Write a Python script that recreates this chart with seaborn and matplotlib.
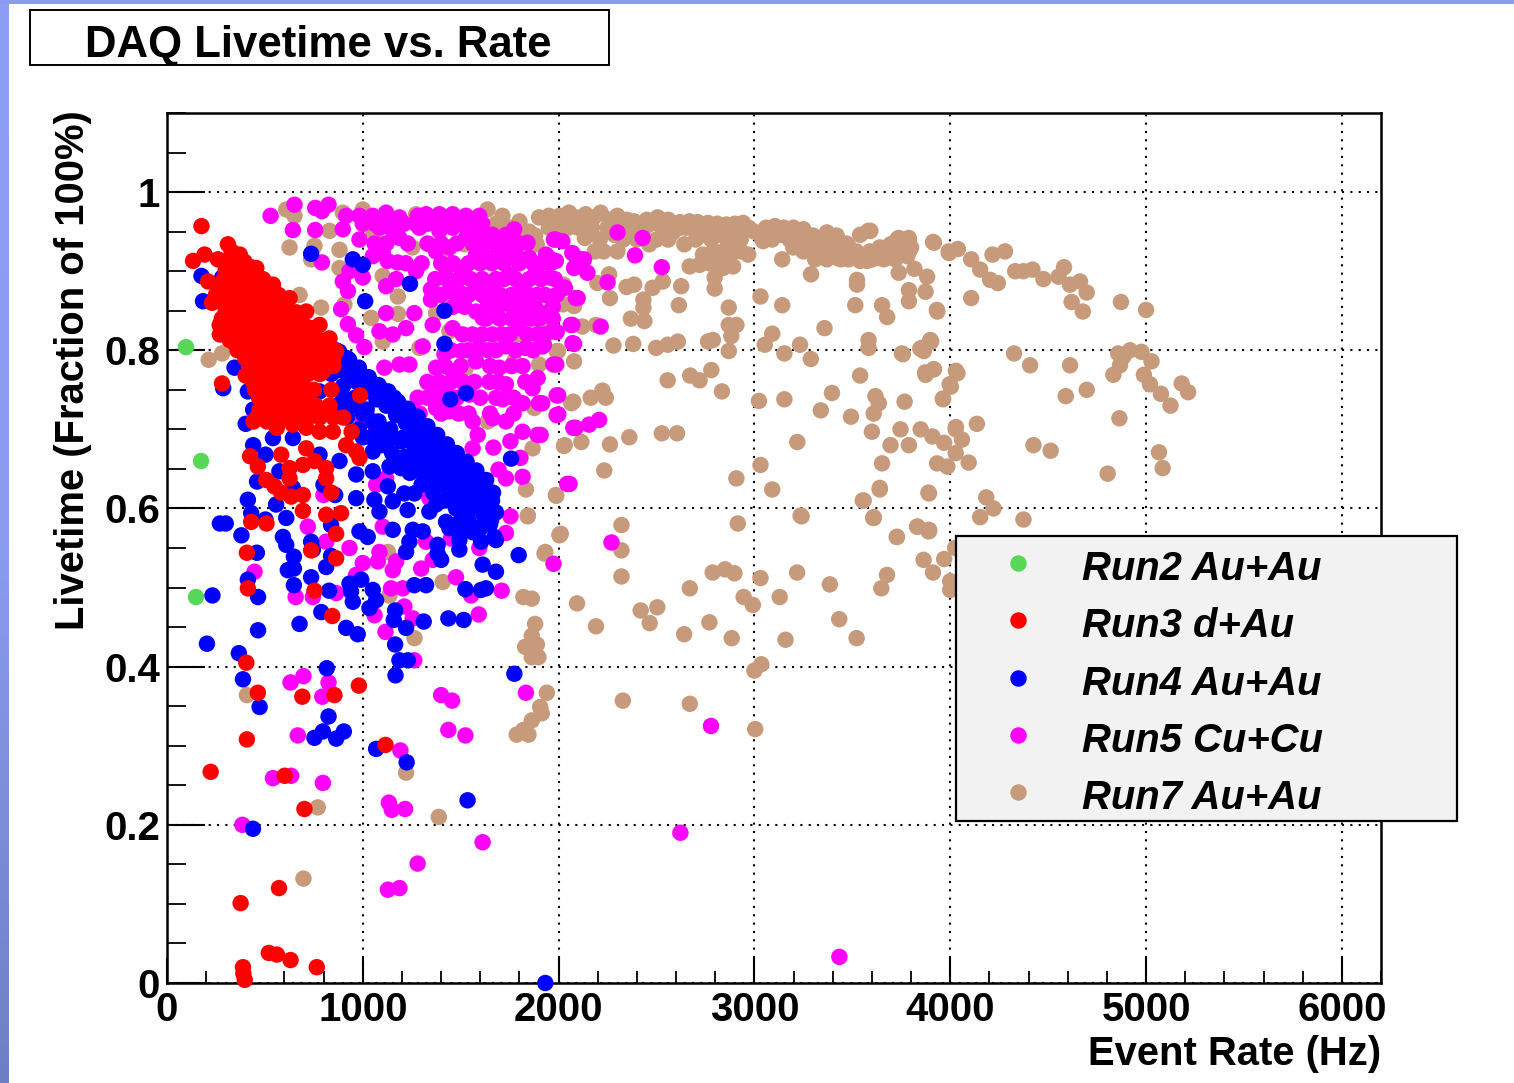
import numpy as np
import pandas as pd
import matplotlib
matplotlib.use("Agg")
import matplotlib.pyplot as plt
from matplotlib.patches import Rectangle
from matplotlib.ticker import MultipleLocator, FixedLocator
import seaborn as sns

run2 = [(97,.804),(174,.66),(148,.488)]

run3 = [(176,.957),(133,.913),(192,.921),(260,.915),(311,.934),(210,.887),
(372,.921),(456,.904),(541,.883),(626,.866),(711,.849),(779,.832),(830,.815),(864,.799),
(300,.9),(340,.9),(260,.88),(320,.88),(380,.88),(440,.88),(500,.875),
(230,.86),(290,.86),(350,.86),(410,.86),(470,.86),(530,.86),(590,.855),
(280,.84),(340,.84),(400,.84),(460,.84),(520,.84),(580,.84),(640,.84),(690,.835),
(270,.82),(330,.82),(390,.82),(450,.82),(510,.82),(570,.82),(630,.82),(690,.82),(750,.82),
(360,.80),(420,.80),(480,.80),(540,.80),(600,.80),(660,.80),(720,.80),(780,.80),(830,.80),
(269,.832),(320,.841),(320,.813),(393,.799),(300,.879),(368,.87),(402,.768),
(420,.78),(480,.78),(540,.78),(600,.78),(650,.78),(700,.78),(740,.785),(800,.785),(850,.78),
(796,.773),(840,.75),(986,.743),
(440,.76),(500,.76),(560,.76),(620,.76),(690,.76),
(470,.74),(530,.74),(600,.74),(660,.74),(720,.74),
(473,.725),(558,.73),(609,.72),(711,.73),(796,.72),
(442,.71),(510,.71),(561,.702),(643,.706),(711,.702),(779,.697),(847,.697),(943,.697),
(915,.68),(966,.672),(983,.664),(711,.676),(753,.66),(694,.655),(626,.651),(583,.668),(626,.638),
(813,.651),(813,.638),(424,.666),(464,.653),(507,.636),(549,.628),(583,.62),(634,.615),(694,.617),
(694,.597),(839,.62),(813,.592),(889,.594),(430,.583),(508,.581),(281,.758),
(864,.568),(408,.544),(736,.547),(864,.537),(413,.499),(753,.496),(844,.464),(405,.405),(464,.367),
(691,.362),(855,.364),(980,.376),(408,.308),(1116,.301),(223,.267),(601,.262),(702,.22),(572,.12),
(376,.101),(520,.038),(561,.036),(631,.029),(765,.02),(388,.02),(397,.004),(390,.012)]

run3_dense = [(330,.925),(350,.92),(320,.915),(360,.915),(395,.912),(430,.905),(300,.905),(340,.905),(380,.905),(420,.9),
(290,.89),(330,.89),(370,.89),(410,.89),(450,.89),(490,.89),(510,.884),
(250,.87),(290,.87),(330,.87),(370,.87),(410,.87),(450,.87),(490,.87),(530,.87),(570,.87),(600,.862),
(300,.85),(340,.85),(380,.85),(420,.85),(460,.85),(500,.85),(540,.85),(580,.85),(620,.85),(660,.848),
(310,.83),(350,.83),(390,.83),(430,.83),(470,.83),(510,.83),(550,.83),(590,.83),(630,.83),(670,.83),(710,.83),(740,.828),
(340,.81),(380,.81),(420,.81),(460,.81),(500,.81),(540,.81),(580,.81),(620,.81),(660,.81),(700,.81),(740,.81),(780,.81),(800,.812),(820,.81),
(400,.79),(440,.79),(500,.79),(560,.79),(620,.79),(680,.79),(740,.79),(800,.79),(850,.79),
(420,.77),(480,.77),(540,.77),(600,.77),(660,.77),(720,.77),(780,.77),
(450,.75),(510,.75),(570,.75),(630,.75),(690,.75),(750,.75),
(500,.73),(640,.73),(690,.73),(760,.73),(830,.73),
(460,.715),(530,.715),(590,.715),(650,.715),(720,.715),(780,.715),(850,.715),(900,.715)]

run4 = [(864,.80),(920,.79),(980,.775),(1040,.76),(1100,.75),(1160,.74),(1220,.725),(1280,.71),(1340,.695),
(1400,.68),(1460,.665),(1520,.65),(1580,.635),(1630,.62),(1660,.61),(1680,.595),
(840,.77),(900,.755),(960,.74),(1020,.725),(1080,.71),(1140,.70),(1200,.685),(1260,.67),(1320,.655),
(1380,.64),(1440,.625),(1500,.61),(1560,.60),(1620,.59),(1650,.58),
(870,.73),(1000,.69),(1100,.68),(1190,.655),(1240,.645),(1300,.63),(1360,.62),(1420,.61),(1500,.585),
(1560,.57),(1580,.575),(1680,.56),
(176,.894),(282,.892),(184,.862),(240,.862),(311,.862),(736,.922),(949,.915),(1000,.908),(1241,.884),
(1012,.862),(1417,.85),(1417,.808),(1447,.738),(1527,.746),(1757,.663),
(328,.828),(370,.803),(345,.778),(413,.748),(287,.752),(440,.725),(402,.707),(440,.68),(514,.837),
(694,.807),(779,.748),(881,.726),(1051,.71),(1119,.68),(1051,.672),(1136,.653),(1195,.651),(1051,.647),
(966,.643),(1128,.628),(1323,.638),(779,.668),(503,.668),(881,.66),(541,.689),(643,.689),(574,.647),
(643,.626),(460,.634),(413,.611),(557,.605),(430,.594),(270,.581),(503,.586),(609,.588),(799,.63),
(859,.617),(966,.613),(1059,.611),(1153,.609),(1212,.619),(1263,.619),(1085,.596),(1229,.598),(1374,.605),
(1340,.596),(1476,.6),(1425,.583),(1655,.585),
(300,.581),(380,.566),(459,.544),(592,.564),(609,.554),(648,.539),(648,.524),(617,.522),(736,.558),
(745,.548),(838,.54),(813,.526),(736,.513),(648,.503),(828,.496),(932,.505),(992,.51),(940,.495),(949,.482),
(1051,.497),(1068,.484),(1034,.474),(788,.469),(915,.449),(974,.441),(677,.454),(465,.446),(465,.488),
(232,.49),(204,.429),(367,.417),(413,.51),(1165,.471),(1158,.459),(1221,.449),(1311,.457),(1437,.461),
(1515,.459),(1165,.428),(1187,.408),(1230,.408),(1167,.389),(816,.398),(388,.384),(473,.349),(825,.337),
(796,.318),(753,.31),(903,.318),(864,.309),(1068,.296),(1224,.279),(1535,.231),(439,.195),(1932,0),
(1774,.391),(1796,.541),(1612,.529),(1680,.52),(1524,.498),(1604,.497),(1629,.499),(1263,.503),(1323,.503),
(1400,.535),(1382,.554),(1382,.543),(1221,.545),(1238,.558),(1493,.548),(1493,.56),(1493,.573),(1604,.558),
(1672,.564),(1646,.583),(1442,.575),(1153,.573),(1255,.573),(1306,.571),(983,.571),(1025,.564),(838,.579)]

run4_dense = [(880,.798),(930,.788),(980,.778),(1030,.766),(1080,.756),(1130,.748),(1180,.735),(1230,.726),(1280,.716),
(1330,.704),(1380,.693),(1430,.681),(1480,.67),(1530,.659),(1580,.648),(1630,.636),(1665,.62),
(870,.775),(920,.77),(970,.76),(1020,.748),(1070,.738),(1120,.73),(1170,.718),(1220,.708),(1270,.698),
(1320,.686),(1370,.675),(1420,.663),(1470,.652),(1520,.64),(1570,.63),(1620,.618),(1650,.6),
(900,.74),(950,.73),(1000,.72),(1050,.71),(1100,.70),(1150,.69),(1210,.69),(1260,.68),(1310,.668),
(1360,.657),(1410,.645),(1460,.634),(1510,.622),(1560,.612),(1610,.60),(1640,.60),
(1280,.65),(1330,.64),(1390,.63),(1440,.615),(1490,.60),(1540,.585),(1600,.575),
(920,.715),(980,.70),(1040,.69),(1090,.685),(1150,.67),(1210,.665),(1260,.655),(1310,.645)]

run5 = [(529,.97),(651,.984),(643,.952),(757,.952),(791,.911),(757,.98),(825,.984),(791,.976),
(915,.97),(983,.97),(1051,.97),(1119,.974),(1187,.968),(1280,.97),(1323,.972),(1391,.972),(1459,.972),(1527,.97),(1595,.97),
(898,.953),(983,.94),(1085,.955),(1153,.951),(1187,.942),(1289,.955),(1391,.951),(1459,.955),(1374,.925),(1442,.93),
(1527,.942),(1595,.951),(1663,.946),(1731,.946),(1773,.953),(1841,.936),(1986,.94),
(1102,.923),(1127,.913),(1178,.911),(1051,.919),(932,.9),(1000,.892),(1272,.9),(1425,.904),(1502,.904),(1578,.921),
(1646,.917),(1714,.925),(1782,.921),(1850,.917),(1935,.921),(1986,.913),(2092,.917),
(898,.887),(924,.875),(1119,.881),(1170,.89),(1348,.877),(1348,.864),(1442,.875),(1510,.871),(1578,.875),(1629,.866),
(1663,.883),(1748,.896),(1816,.883),(1884,.9),(1952,.892),(2032,.879),(2088,.866),
(889,.852),(1119,.847),(1263,.847),(1578,.849),(1748,.858),(1833,.854),(1935,.847),(1850,.87),
(924,.833),(966,.819),(1085,.824),(1153,.82),(1221,.828),(1357,.832),(1306,.805),(1459,.828),(1510,.82),(1612,.841),
(1663,.82),(1799,.828),(1969,.824),(2062,.832),(2071,.809),
(1008,.804),(1417,.795),(1502,.799),(1595,.803),(1731,.805),(1833,.803),(1918,.805),
(1110,.778),(1187,.782),(1238,.782),(1374,.778),(1578,.786),(1697,.778),(1816,.78),(1973,.782),(1893,.765),(1867,.752),
(1646,.76),(1731,.757),(1357,.752),(1459,.773),(1425,.748),(1510,.76),
(1990,.743),(1900,.733),(1714,.738),(1816,.733),(1544,.744),(1374,.727),(1442,.723),
(1990,.718),(1663,.714),(1731,.71),(1816,.697),(1892,.693),(1561,.71),(1587,.693),(2075,.702),(1000,.71),(1068,.702),
(1667,.677),(1754,.685),(1805,.664),(1693,.649),(1731,.638),(1816,.64),(1561,.676),(2044,.631),
(1754,.59),(799,.617),(1068,.63),(1119,.638),(1306,.643),(1340,.613),
(1976,.94),(2019,.938),(2301,.949),(2429,.942),(2390,.92),(2527,.905),(2070,.923),(2130,.915),(2147,.898),(2079,.904),
(2250,.886),(1950,.917),(2027,.879),(2097,.866),(2070,.832),(2215,.83),(1990,.823),(2079,.808),(1925,.807),(1925,.845),
(1988,.782),(1998,.743),(1916,.733),(1998,.719),(2087,.702),(2156,.706),(2207,.712),(1908,.693),(2056,.631),
(447,.52),(657,.488),(745,.488),(864,.493),(813,.558),(932,.55),(1000,.531),(1077,.533),(1085,.545),(1153,.522),
(1170,.533),(1298,.524),(1476,.513),(1731,.569),(1974,.53),(1709,.496),(1592,.466),(1144,.499),(1204,.499),(1212,.476),
(1060,.465),(1255,.461),(1116,.444),(1263,.408),(1553,.49),(1357,.535),(1595,.55),(966,.516),(1102,.577),(1323,.558),
(1450,.562),(719,.577),
(697,.388),(631,.38),(825,.38),(793,.362),(1833,.367),(1400,.364),(1456,.357),(1437,.32),(1524,.313),(668,.313),
(541,.259),(634,.262),(796,.253),(1192,.294),(1133,.228),(1148,.219),(1216,.22),(385,.2),(1612,.178),(1280,.151),
(1128,.118),(1187,.12),(2778,.325),(2270,.557),(2622,.19),(3434,.033)]

run5_dense = [(1000,.96),(1060,.96),(1130,.96),(1210,.96),(1270,.96),(1330,.96),(1400,.96),(1440,.96),(1500,.96),(1560,.96),(1610,.96),
(1060,.935),(1120,.935),(1230,.935),(1330,.935),(1400,.935),(1480,.935),(1560,.935),(1620,.935),(1680,.935),(1750,.935),(1800,.935),
(1220,.91),(1300,.91),(1400,.91),(1460,.91),(1540,.91),(1600,.91),(1660,.91),(1720,.91),(1800,.91),(1870,.91),(1910,.91),(1960,.91),
(1370,.89),(1430,.89),(1490,.89),(1550,.89),(1610,.89),(1680,.89),(1720,.89),(1780,.89),(1850,.89),(1910,.89),(1980,.89),
(1400,.87),(1480,.87),(1540,.87),(1610,.87),(1700,.87),(1760,.87),(1810,.87),(1890,.87),(1930,.87),(1990,.87),
(1460,.855),(1520,.855),(1640,.855),(1690,.855),(1770,.855),(1810,.855),(1880,.855),(1970,.855),
(1630,.84),(1700,.84),(1760,.84),(1800,.84),(1860,.84),(1900,.84),(1970,.84),
(1560,.82),(1610,.82),(1710,.82),(1750,.82),(1840,.82),(1890,.82),(1930,.82),
(1450,.80),(1540,.80),(1640,.80),(1680,.80),(1780,.80),(1870,.80),
(1420,.78),(1500,.78),(1650,.78),(1760,.78),
(1330,.76),(1390,.76),(1450,.76),(1510,.76),(1570,.76),(1690,.76),(1830,.76),
(1280,.74),(1330,.74),(1400,.74),(1480,.74),(1600,.74),(1680,.74),(1770,.74),
(1290,.72),(1400,.72),(1490,.72),(1540,.72),(1650,.72),(1770,.72)]

run7 = [(1637,.978),(1713,.97),(1800,.963),(1900,.968),(2005,.97),(1950,.97),(2053,.974),(2138,.972),(2215,.974),(2300,.97),
(2385,.963),(2506,.968),(2583,.961),(2668,.963),(2763,.961),(2857,.959),(2942,.961),(3028,.946),(3105,.957),(3199,.955),
(3250,.953),(3370,.949),(2134,.942),(2185,.925),(2285,.946),(2463,.934),(2395,.951),(2583,.949),(2642,.934),(2737,.946),
(2823,.946),(2908,.946),(2968,.921),(3044,.938),(3130,.946),(3250,.925),(3352,.921),(3420,.917),(3480,.932),(3540,.913),
(3582,.951),(3540,.946),(3626,.917),(3678,.917),(3695,.934),(3729,.94),(3789,.94),(3780,.919),(3917,.936),(3994,.923),
(2720,.908),(2669,.906),(2737,.921),(2840,.925),(2840,.904),(2891,.906),(2797,.892),(2797,.878),(2900,.925),(3199,.93),
(3320,.934),(3404,.93),(3440,.915),(3575,.913),
(3142,.915),(3289,.896),(3524,.889),(3524,.883),(3737,.898),(3817,.903),(3882,.893),(3789,.876),(3789,.862),(3874,.874),
(3934,.849),(3515,.857),(3652,.857),(3678,.842),(3358,.828),(3142,.857),(3031,.868),(2869,.854),(2626,.881),(2614,.857),
(2532,.887),(2480,.879),(2433,.864),(2433,.854),(2369,.84),(2438,.837),(2386,.883),(2347,.88),(2258,.896),(2198,.885),
(2262,.866),(2019,.859),(2079,.856),(2121,.83),(2190,.832),
(2869,.832),(2908,.832),(2882,.818),(2869,.799),(3091,.821),(3053,.807),(3153,.796),(3233,.807),(3288,.789),(3583,.813),
(3583,.803),(3758,.795),(3847,.802),(3865,.799),(3903,.811),(2280,.806),(2381,.808),(2498,.803),(2557,.807),(2609,.811),
(2763,.811),(2788,.813),(1990,.799),(2079,.786),(2557,.762),(2672,.768),(2720,.762),(2780,.775),(2834,.748),(3540,.768),
(3874,.769),(3917,.776),(4003,.754),(4037,.771),(3023,.736),(3153,.738),(3396,.746),(3339,.724),(3493,.716),(3618,.742),
(3635,.733),(3609,.72),(3767,.735),(3963,.738),(2065,.733),(2164,.74),(2224,.749),(2241,.74),
(2027,.679),(2116,.684),(2262,.681),(2361,.69),(2527,.695),(2605,.695),(3219,.684),(3600,.697),(3746,.7),(3849,.7),
(3909,.691),(3695,.68),(3789,.68),(3969,.683),(4028,.7),(3933,.657),(3985,.653),(4028,.67),(3652,.657),(3031,.655),
(2233,.648),(2908,.638),(3091,.624),(3640,.624),(3891,.619),(3553,.61),(1988,.616),(3241,.59),(3609,.588),(2321,.579),
(2915,.581),(2005,.567),(3831,.577),(3891,.573),
(3592,.951),(3737,.942),(3788,.942),(3912,.937),(3992,.925),(4039,.928),(4107,.915),(4153,.902),(4216,.921),(4280,.925),
(4204,.889),(4243,.885),(4332,.9),(4374,.9),(4420,.902),(4476,.89),(4581,.905),(4553,.893),(4612,.883),(4663,.887),
(4697,.873),(4620,.861),(4677,.849),(4872,.861),(5000,.851),(4107,.866),(3932,.851),
(4326,.796),(4408,.781),(4612,.781),(4590,.742),(4697,.75),(4858,.796),(4918,.8),(4884,.792),(4867,.781),(4833,.769),
(4977,.798),(5028,.786),(4989,.769),(5020,.757),(5076,.745),(5125,.73),(5182,.758),(5215,.747),
(4029,.774),(3997,.757),(3963,.739),(3915,.776),(3872,.772),(3753,.796),(3855,.803),(3898,.813),
(4864,.714),(4425,.68),(4513,.673),(4804,.644),(5066,.671),(5085,.651),(4029,.703),(4060,.687),(4136,.707),(4094,.658),
(4184,.614),(4221,.6),(4153,.589),(4374,.586),(3889,.62),(3640,.626),(3558,.61),(3609,.589),(3833,.577),(3893,.572),
(3728,.564),(3864,.535),(3969,.536),(3912,.519),(3677,.516),(3648,.499),(4000,.508),(4000,.497),(4025,.55),
(1843,.591),(2005,.566),(3236,.591),(3607,.588),(3890,.571),(3727,.564),(1928,.543),(2321,.547),(2321,.514),(2787,.519),
(2850,.523),(2898,.518),(3031,.512),(3218,.519),(3385,.504),(1820,.488),(1863,.486),(2094,.48),(2670,.499),(2191,.451),
(2419,.471),(2504,.475),(2465,.455),(2945,.488),(2992,.478),(3129,.488),(2770,.456),(2641,.441),(2884,.436),(3159,.434),
(3433,.46),(3522,.436),(1880,.454),(1863,.439),(1889,.428),(1829,.425),(1863,.412),(1897,.412),(3035,.403),(3000,.395),
(1940,.367),(1906,.349),(1914,.341),(1863,.332),(1820,.32),(1786,.314),(1846,.314),(2328,.357),(2670,.353),(3004,.321),
(1408,.507),(2011,.568),(1932,.545),(1264,.436),(408,.364),(1221,.266),(770,.222),(1388,.21),(697,.132),(1136,.49),(1128,.545),
(609,.978),(651,.97),(626,.93),(753,.932),(736,.915),(881,.927),(881,.904),(830,.951),(1051,.951),(1102,.894),(1179,.868),
(1043,.841),(787,.854),(677,.87),(906,.858),(1102,.811),(1179,.846),(1374,.847),(1289,.803),(1331,.759),(1527,.778),(1442,.824),
(1790,.82),(1867,.676),(1833,.624),(1986,.617),(1842,.59),(2075,.735),(2031,.68),(2022,.858),(1997,.799),(1900,.782),(213,.788),
(281,.796),(1773,.786),(1272,.972),(898,.974),(1000,.978),(1340,.934),(1425,.917),(1519,.934),(1803,.913),(1820,.946),(1888,.934),
(2025,.883),(1925,.832),(1876,.727),(1638,.71),(1253,.93),(1068,.938)]

run7_dense = [(1680,.96),(1750,.955),(1850,.95),(1950,.955),(1880,.945),(2050,.955),(2100,.955),(2170,.955),(2250,.955),(2340,.955),
(2440,.955),(2530,.955),(2620,.955),(2700,.955),(2790,.955),(2880,.955),(2970,.955),(3060,.955),(3160,.945),(3300,.945),(3420,.945),
(2210,.94),(2330,.94),(2400,.94),(2500,.94),(2560,.94),(2700,.94),(2780,.94),(2860,.94),(2930,.94),(3090,.94),(3180,.94),(3290,.94),
(3340,.94),(3400,.935),(3470,.935),(3640,.93),(3720,.93),(3800,.93),
(2230,.925),(2300,.925),(2790,.925),(2870,.925),(2930,.925),(3290,.925),(3400,.925),(3460,.925),(3520,.925),(3590,.925),(3650,.925),
(3740,.925),(3790,.925),
(2770,.91),(2820,.91),(2870,.91),(3310,.915),(3370,.915),(3480,.915),(3560,.915),(3600,.915),(3660,.915),(3720,.915),
(2090,.968),(2180,.968),(2260,.965),(2340,.96),(2450,.965),(2540,.963),(2620,.962),(2710,.962),(2810,.96),(2900,.96),
(2000,.955),(2150,.96),(2270,.96),(2350,.965),(2470,.96),(2560,.965),(2650,.955),(2720,.96),(2820,.955),(2900,.955),(3000,.95),
(3110,.945),(3210,.94),(3280,.935),(3150,.955)]

runs = ["Run2 Au+Au", "Run3 d+Au", "Run4 Au+Au", "Run5 Cu+Cu", "Run7 Au+Au"]
colors = ["#57d957", "#ff0000", "#0000ff", "#ff00ff", "#c69a7b"]
x_ticks = [0, 1000, 2000, 3000, 4000, 5000, 6000]
y_ticks = [0, 0.2, 0.4, 0.6, 0.8, 1.0]
y_tick_labels = ["0", "0.2", "0.4", "0.6", "0.8", "1"]

W, H = 1514, 1083
sns.set_theme(style="white")
plt.rcParams["font.family"] = ["Liberation Sans", "DejaVu Sans"]
plt.rcParams["font.weight"] = "bold"

series = [run7 + run7_dense, run5 + run5_dense, run4 + run4_dense, run3 + run3_dense, run2]
frames = [pd.DataFrame(pts, columns=["rate", "live"]).assign(run=name)
          for name, pts in zip(runs[::-1], series)]
df = pd.concat(frames, ignore_index=True)

fig = plt.figure(figsize=(W / 100, H / 100), dpi=100, facecolor="white")
ax = fig.add_axes([167 / W, 1 - 983 / H, (1381 - 167) / W, (983 - 113) / H])

sns.scatterplot(data=df, x="rate", y="live", hue="run", hue_order=runs,
                palette=dict(zip(runs, colors)), s=140, linewidth=0, marker="o",
                ax=ax, zorder=3, clip_on=False)
handles, labels = ax.get_legend_handles_labels()
ax.get_legend().remove()

ax.set_xlim(0, 6200)
ax.set_ylim(0, 1.1)
ax.xaxis.set_major_locator(FixedLocator(x_ticks))
ax.yaxis.set_major_locator(FixedLocator(y_ticks))
ax.xaxis.set_minor_locator(MultipleLocator(200))
ax.yaxis.set_minor_locator(MultipleLocator(0.05))
ax.set_xticklabels([str(v) for v in x_ticks], fontsize=29, fontweight="bold")
ax.set_yticklabels(y_tick_labels, fontsize=29, fontweight="bold")
ax.tick_params(axis="x", which="major", direction="in", length=18, width=1.5, color="black",
               pad=6, bottom=True, labelcolor="black")
ax.tick_params(axis="x", which="minor", direction="in", length=9, width=1.3, color="black", bottom=True)
ax.tick_params(axis="y", which="major", direction="in", length=27, width=1.5, color="black",
               pad=5, left=True, labelcolor="black")
ax.tick_params(axis="y", which="minor", direction="in", length=14, width=1.3, color="black", left=True)
ax.grid(True, which="major", color="black", linestyle=(0, (1, 3)), linewidth=1.5, zorder=1)
ax.set_axisbelow(True)
for s in ax.spines.values():
    s.set_visible(True)
    s.set_color("black")
    s.set_linewidth(1.8)
ax.set_xlabel("")
ax.set_ylabel("")

fig.text(1381 / W, 1 - 1054 / H, "Event Rate (Hz)", ha="right", va="center",
         fontsize=28.8, fontweight="bold", color="black")
fig.text(73 / W, 1 - 110 / H, "Livetime (Fraction of 100%)", ha="center", va="top",
         rotation=90, fontsize=28.8, fontweight="bold", color="black")

# legend box as its own patch, so the entries can sit a few pixels lower inside it
ax.add_patch(Rectangle((956 / W, 1 - 821 / H), 501 / W, 285 / H, transform=fig.transFigure,
                       facecolor="#f2f2f2", edgecolor="black", linewidth=1.6, zorder=9, clip_on=False))
leg = ax.legend(handles, labels, bbox_to_anchor=(956 / W, 1 - 824 / H, 501 / W, 285 / H),
                bbox_transform=fig.transFigure, loc="lower left", mode="expand", borderaxespad=0,
                fancybox=False, frameon=False,
                prop={"family": "Liberation Sans", "style": "italic", "weight": "bold", "size": 28.8},
                labelspacing=0.48, borderpad=0.25, handletextpad=0.3, handlelength=2.6)
leg.set_zorder(10)
for t in leg.get_texts():
    t.set_color("black")
    t.set_y(-3)

fig.add_artist(Rectangle((30 / W, 1 - 65 / H), (609 - 30) / W, 55 / H, transform=fig.transFigure,
                         facecolor="white", edgecolor="black", linewidth=1.4))
fig.text(318 / W, 1 - 45 / H, "DAQ Livetime vs. Rate", ha="center", va="center",
         fontsize=31.5, fontweight="bold", color="black")

fig.add_artist(Rectangle((0, 1 - 4 / H), 1, 4 / H, transform=fig.transFigure,
                         facecolor="#8a9cf0", edgecolor="none"))
band = fig.add_axes([0, 0, 9 / W, 1])
band.imshow(np.linspace(0, 1, 256).reshape(-1, 1), aspect="auto",
            cmap=matplotlib.colors.LinearSegmentedColormap.from_list("b", ["#8ea0f6", "#8a9cf0", "#6f7fc4"]))
band.axis("off")

fig.savefig("out.png", dpi=100, facecolor="white")
